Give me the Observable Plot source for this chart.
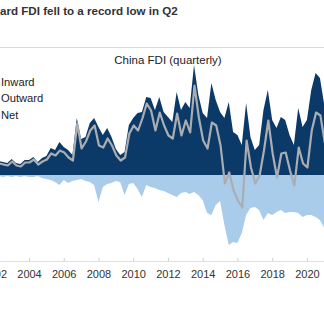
<!DOCTYPE html>
<html><head><meta charset="utf-8">
<script src="https://cdn.jsdelivr.net/npm/d3@7"></script>
<script src="https://cdn.jsdelivr.net/npm/@observablehq/plot@0.6"></script>
<style>
html,body{margin:0;padding:0;background:#fff;}
body{width:324px;height:326px;overflow:hidden;position:relative;font-family:"Liberation Sans",Arial,sans-serif;}
.t{position:absolute;white-space:nowrap;line-height:12px;z-index:2;}
#title{left:0;top:5px;font-size:11.6px;font-weight:bold;color:#333;}
#sep{position:absolute;left:0;top:47px;width:324px;height:1px;background:#d9d9d9;}
#sub{left:0;width:336px;text-align:center;top:54px;font-size:11.5px;color:#222;}
.lg{left:1px;font-size:11.2px;color:#222;}
#chart{position:absolute;left:-40px;top:60px;z-index:1;}
</style></head>
<body>
<div id="title" class="t">ard FDI fell to a record low in Q2</div>
<div id="sep"></div>
<div id="sub" class="t">China FDI (quarterly)</div>
<div class="t lg" style="top:76px">Inward</div>
<div class="t lg" style="top:92.3px">Outward</div>
<div class="t lg" style="top:108.6px">Net</div>
<div id="chart"></div>
<script>
// Quarterly data, USD bn (approx.), starting 2002 Q1
const startYear = 2002;
const inward = [14,14,13,12,16,12,11,15,15,18,13,17,19,27,25,33,28,25,20,57,36,38,52,57,48,40,47,38,26,20,23,50,57,62,63,78,77,65,78,63,58,53,83,65,73,67,110,80,62,57,92,75,63,57,73,43,40,30,72,38,25,30,65,85,55,47,58,55,40,30,67,48,55,85,102,97,70,50];
const outward = [-1,-1,-2,-1,-2,-1,-2,-1,-2,-2,-1,-3,-4,-5,-7,-10,-5,-8,-6,-5,-4,-6,-7,-10,-27,-12,-9,-8,-6,-7,-20,-9,-8,-14,-22,-10,-12,-13,-15,-16,-18,-20,-22,-18,-17,-19,-17,-20,-25,-38,-40,-30,-26,-50,-70,-67,-68,-58,-40,-33,-32,-35,-45,-38,-40,-37,-35,-38,-37,-37,-38,-42,-40,-40,-42,-45,-53,-55];
const net = [12,12,11,10,14,10,9,13,13,16,11,14,16,22,20,25,23,18,15,52,27,34,45,50,30,28,37,30,20,15,18,42,50,45,57,72,65,45,63,50,40,37,62,40,55,43,90,58,35,27,53,50,30,-8,3,-15,-25,-32,35,8,-8,0,25,55,22,-2,22,23,5,-10,28,12,8,45,63,60,33,20];
const tickYears = [2002,2004,2006,2008,2010,2012,2014,2016,2018,2020];

const data = inward.map((v, i) => ({t: startYear + i / 4, inward: v, outward: outward[i], net: net[i]}));

const chart = Plot.plot({
  width: 364,
  height: 230,
  marginLeft: 0, marginRight: 0, marginTop: 0, marginBottom: 29,
  style: {fontFamily: '"Liberation Sans", Arial, sans-serif', fontSize: "11px", color: "#333", background: "transparent"},
  x: {domain: [2004, 2020], range: [69, 346.9], label: null},
  y: {domain: [-86, 100], range: [201, 15], axis: null},
  marks: [
    Plot.areaY(data, {x: "t", y: "inward", fill: "#0b3a68"}),
    Plot.areaY(data, {x: "t", y: "outward", fill: "#a8cce9"}),
    Plot.lineY(data, {x: "t", y: "net", stroke: "#aaaeb2", strokeWidth: 2.2}),
    Plot.ruleY([-86], {stroke: "#e0e0e0"}),
    Plot.ruleX(tickYears, {x: d => d, y1: -86, y2: -83, stroke: "#d0d0d0"}),
    Plot.axisX(tickYears, {anchor: "bottom", tickSize: 0, tickPadding: 9, tickFormat: d => String(d), fill: "#333", label: null})
  ]
});
document.getElementById("chart").appendChild(chart);
</script>
</body></html>
